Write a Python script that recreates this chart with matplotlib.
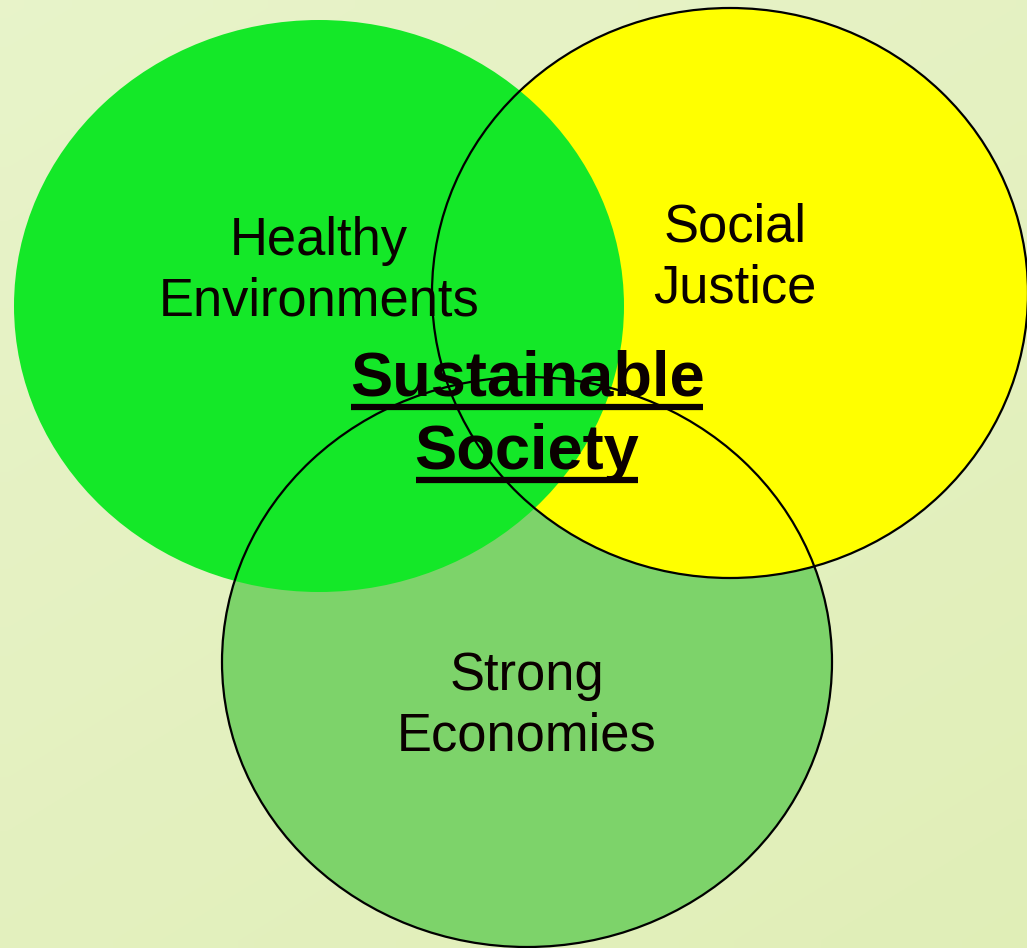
import matplotlib
matplotlib.use("Agg")
import matplotlib.pyplot as plt
from matplotlib.patches import Ellipse
import numpy as np

# circles: label, center (x, y), width, height, fill colour
labels = ["Strong\nEconomies", "Social\nJustice", "Healthy\nEnvironments"]
centers = [(527, 662), (730, 293), (319, 306)]
widths = [610, 596, 610]
heights = [570, 570, 572]
fills = ["#7DD36A", "#FFFF00", "#14E828"]
outlined = [True, True, False]
label_pos = [(527, 706), (735, 258), (319, 271)]

center_title = ["Sustainable", "Society"]
title_pos = [(527, 396), (527, 469)]

W, H = 1027, 948
fig = plt.figure(figsize=(W / 100, H / 100), dpi=100)
ax = fig.add_axes([0, 0, 1, 1])
ax.set_xlim(0, W)
ax.set_ylim(H, 0)
ax.axis("off")

# soft background
g = np.linspace(0, 1, 64)
gx, gy = np.meshgrid(g, g)
t = (gx * 0.4 + gy * 0.6)
c0 = np.array([0.91, 0.955, 0.79])
c1 = np.array([0.88, 0.935, 0.72])
bg = c0[None, None, :] * (1 - t[..., None]) + c1[None, None, :] * t[..., None]
ax.imshow(bg, extent=[0, W, H, 0], aspect="auto", zorder=0, interpolation="bilinear")

# fills first, then outlines on top
for (cx, cy), w, h, fc in zip(centers, widths, heights, fills):
    ax.add_patch(Ellipse((cx, cy), w, h, facecolor=fc, edgecolor="none", zorder=1))
for (cx, cy), w, h, ol in zip(centers, widths, heights, outlined):
    if ol:
        ax.add_patch(Ellipse((cx, cy), w, h, facecolor="none", edgecolor="black",
                             linewidth=1.6, zorder=2))

for lab, (x, y) in zip(labels, label_pos):
    ax.text(x, y, lab, ha="center", va="center", fontsize=37.8,
            family="Liberation Sans", color="#0a0000", linespacing=1.28, zorder=3)

txts = []
for s, (x, y) in zip(center_title, title_pos):
    txts.append(ax.text(x, y, s, ha="center", va="baseline", fontsize=45.5,
                        fontweight="bold", family="Liberation Sans",
                        color="#0a0000", zorder=3))

# underline each line of the title
fig.canvas.draw()
r = fig.canvas.get_renderer()
inv = ax.transData.inverted()
for tx, (x, y) in zip(txts, title_pos):
    bb = tx.get_window_extent(r)
    (x0, _), (x1, _) = inv.transform([(bb.x0, bb.y0), (bb.x1, bb.y0)])
    ax.plot([x0 + 1, x1 - 1], [y + 11, y + 11], color="#0a0000", linewidth=4.5,
            solid_capstyle="butt", zorder=3)

fig.savefig("out.png", dpi=100)
